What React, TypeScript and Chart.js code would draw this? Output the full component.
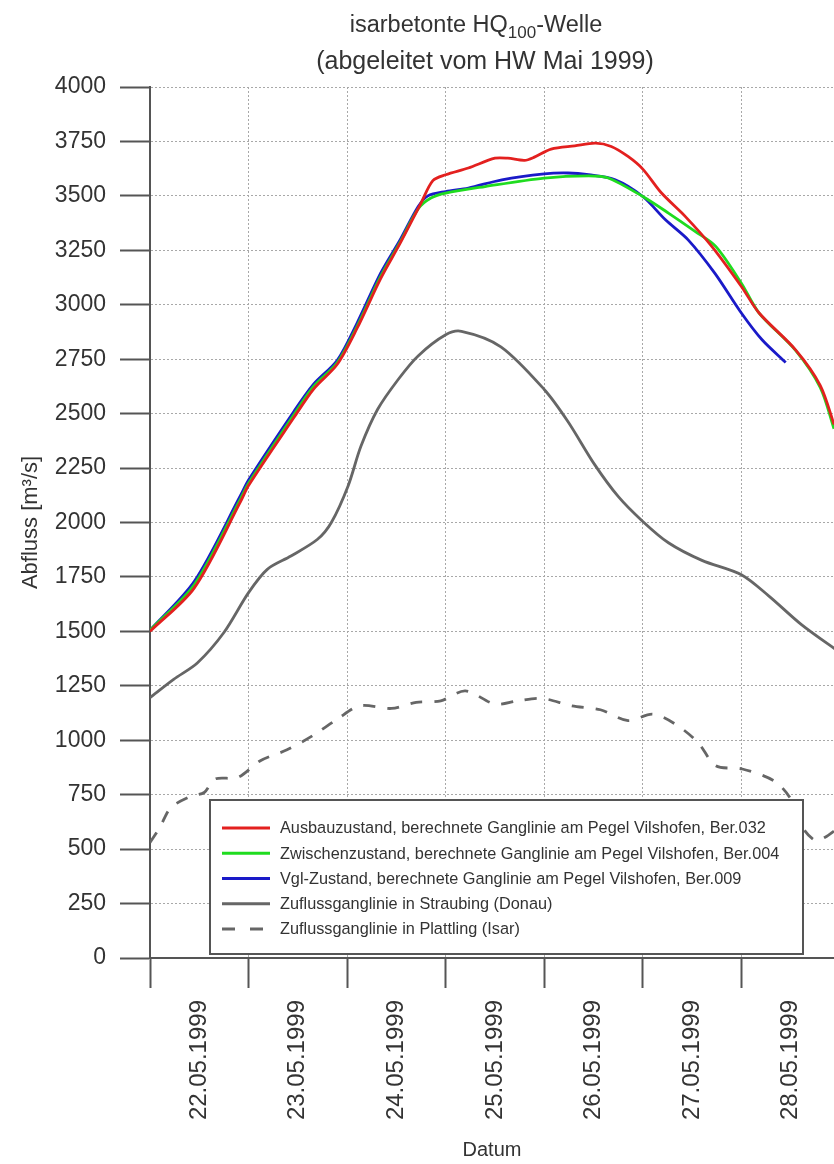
import React, { useEffect, useRef } from 'react';
import { Chart, registerables } from 'chart.js';

Chart.register(...registerables);

const FONT = '"Liberation Sans", Arial, Helvetica, sans-serif';

// x values: days since 22.05.1999 00:00
const dateLabels = ['22.05.1999', '23.05.1999', '24.05.1999', '25.05.1999', '26.05.1999', '27.05.1999', '28.05.1999'];
const dayGridValues = [0, 1, 2, 3, 4, 5, 6];
const yTickValues = [0, 250, 500, 750, 1000, 1250, 1500, 1750, 2000, 2250, 2500, 2750, 3000, 3250, 3500, 3750, 4000];
const xMin = 0;
const xMax = 6.94;

const seriesLabels = [
  'Ausbauzustand, berechnete Ganglinie am Pegel Vilshofen, Ber.032',
  'Zwischenzustand, berechnete Ganglinie am Pegel Vilshofen, Ber.004',
  'Vgl-Zustand, berechnete Ganglinie am Pegel Vilshofen, Ber.009',
  'Zuflussganglinie in Straubing (Donau)',
  'Zuflussganglinie in Plattling (Isar)',
];

const redX = [0, 0.45, 0.92, 1.0, 1.46, 1.66, 1.9, 2.1, 2.34, 2.54, 2.75, 2.87, 3.0, 3.23, 3.5, 3.63, 3.8, 3.9, 4.07, 4.31, 4.52, 4.68, 4.85, 5.0, 5.19, 5.43, 5.7, 6.0, 6.18, 6.55, 6.8, 6.94, 7.0];
const redY = [1500, 1700, 2097, 2170, 2482, 2613, 2727, 2891, 3120, 3284, 3467, 3570, 3597, 3628, 3673, 3673, 3663, 3678, 3715, 3730, 3742, 3727, 3681, 3623, 3513, 3406, 3268, 3084, 2962, 2793, 2630, 2450, 2360];

const greenX = [0, 0.45, 0.92, 1.0, 1.46, 1.66, 1.9, 2.1, 2.34, 2.54, 2.72, 2.85, 3.0, 3.4, 4.0, 4.45, 4.65, 5.0, 5.26, 5.53, 5.74, 6.0, 6.18, 6.55, 6.8, 6.94, 7.0];
const greenY = [1505, 1715, 2110, 2180, 2495, 2625, 2735, 2900, 3130, 3290, 3440, 3490, 3513, 3543, 3582, 3592, 3582, 3497, 3421, 3337, 3268, 3099, 2962, 2790, 2620, 2430, 2340];

const blueX = [0, 0.45, 0.92, 1.0, 1.46, 1.66, 1.9, 2.1, 2.34, 2.54, 2.72, 2.82, 3.0, 3.23, 3.57, 4.0, 4.24, 4.45, 4.72, 5.0, 5.23, 5.46, 5.73, 6.0, 6.21, 6.45];
const blueY = [1505, 1730, 2125, 2195, 2510, 2635, 2745, 2915, 3145, 3300, 3450, 3500, 3520, 3536, 3574, 3601, 3605, 3597, 3574, 3497, 3390, 3298, 3145, 2962, 2839, 2735];

const grayX = [0, 0.24, 0.48, 0.75, 1.0, 1.19, 1.43, 1.7, 1.84, 2.01, 2.14, 2.31, 2.52, 2.72, 3.0, 3.16, 3.56, 4.0, 4.24, 4.51, 4.75, 5.0, 5.26, 5.6, 6.0, 6.28, 6.61, 6.96, 7.0];
const grayY = [1196, 1280, 1355, 1495, 1678, 1785, 1846, 1923, 2000, 2168, 2350, 2520, 2658, 2765, 2862, 2878, 2807, 2611, 2464, 2267, 2120, 2005, 1907, 1826, 1760, 1662, 1531, 1416, 1405];

const dashX = [0, 0.1, 0.21, 0.41, 0.55, 0.66, 0.89, 1.12, 1.39, 1.65, 1.9, 2.13, 2.45, 2.7, 2.95, 3.2, 3.5, 3.73, 3.98, 4.28, 4.57, 4.85, 5.1, 5.33, 5.56, 5.74, 6.01, 6.33, 6.49, 6.62, 6.75, 6.85, 6.96];
const dashY = [530, 600, 690, 742, 760, 822, 829, 906, 956, 1021, 1097, 1158, 1146, 1174, 1181, 1227, 1166, 1181, 1192, 1158, 1140, 1090, 1120, 1074, 990, 883, 868, 814, 738, 600, 540, 555, 590];

const toPoints = (xs: number[], ys: number[]) => xs.map((x, i) => ({ x, y: ys[i] }));

const titlePlugin = {
  id: 'twoLineTitle',
  afterDraw(chart: any) {
    const ctx = chart.ctx;
    ctx.save();
    ctx.fillStyle = '#333';
    ctx.textBaseline = 'alphabetic';
    const big = `23.5px ${FONT}`;
    const small = `17px ${FONT}`;
    const a = 'isarbetonte HQ';
    const s = '100';
    const b = '-Welle';
    ctx.font = big;
    const wa = ctx.measureText(a).width;
    const wb = ctx.measureText(b).width;
    ctx.font = small;
    const ws = ctx.measureText(s).width;
    let x = 476 - (wa + ws + wb) / 2;
    const y1 = 32;
    ctx.font = big;
    ctx.textAlign = 'left';
    ctx.fillText(a, x, y1);
    x += wa;
    ctx.font = small;
    ctx.fillText(s, x, y1 + 6);
    x += ws;
    ctx.font = big;
    ctx.fillText(b, x, y1);
    ctx.textAlign = 'center';
    ctx.font = `25px ${FONT}`;
    ctx.fillText('(abgeleitet vom HW Mai 1999)', 485, 69);
    ctx.restore();
  },
};

const legendPlugin = {
  id: 'boxLegend',
  afterDraw(chart: any) {
    const ctx = chart.ctx;
    const x0 = 210, y0 = 800, w = 593, h = 154;
    ctx.save();
    ctx.fillStyle = '#fff';
    ctx.fillRect(x0, y0, w, h);
    ctx.strokeStyle = '#555';
    ctx.lineWidth = 2;
    ctx.strokeRect(x0, y0, w, h);
    chart.data.datasets.forEach((ds: any, i: number) => {
      const y = 828 + i * 25.25;
      ctx.beginPath();
      ctx.setLineDash(ds.borderDash && ds.borderDash.length ? [13, 15] : []);
      ctx.strokeStyle = ds.borderColor;
      ctx.lineWidth = 3;
      ctx.moveTo(222, y);
      ctx.lineTo(270, y);
      ctx.stroke();
      ctx.setLineDash([]);
      ctx.fillStyle = '#333';
      ctx.font = `16.3px ${FONT}`;
      ctx.textBaseline = 'middle';
      ctx.textAlign = 'left';
      ctx.fillText(ds.label, 280, y + 1);
    });
    ctx.restore();
  },
};

const gridCommon = {
  color: '#a8a8a8',
  lineWidth: 1,
  tickColor: '#555',
  tickLength: 30,
  tickWidth: 2,
  tickBorderDash: [],
};

export default function App() {
  const ref = useRef<HTMLCanvasElement | null>(null);

  useEffect(() => {
    document.body.style.margin = '0';
    document.body.style.overflow = 'hidden';
    const canvas = ref.current;
    if (!canvas) return;
    const lineBase = { pointRadius: 0, borderWidth: 2.8, fill: false, tension: 0.3, xAxisID: 'x', yAxisID: 'y' };
    const chart = new Chart(canvas, {
      type: 'line',
      data: {
        datasets: [
          { ...lineBase, label: seriesLabels[0], data: toPoints(redX, redY), borderColor: '#e3201f' },
          { ...lineBase, label: seriesLabels[1], data: toPoints(greenX, greenY), borderColor: '#1fdc1f' },
          { ...lineBase, label: seriesLabels[2], data: toPoints(blueX, blueY), borderColor: '#1a1ac8' },
          { ...lineBase, label: seriesLabels[3], data: toPoints(grayX, grayY), borderColor: '#666666' },
          { ...lineBase, label: seriesLabels[4], data: toPoints(dashX, dashY), borderColor: '#666666', borderDash: [12, 12] },
        ],
      } as any,
      options: {
        animation: false,
        responsive: false,
        maintainAspectRatio: false,
        layout: { padding: { top: 87, left: 0, right: 0, bottom: 0 } },
        plugins: { legend: { display: false }, title: { display: false }, tooltip: { enabled: false } },
        scales: {
          x: {
            type: 'linear',
            position: 'bottom',
            weight: 0,
            min: xMin,
            max: xMax,
            afterBuildTicks: (scale: any) => {
              scale.ticks = dayGridValues.map((v) => ({ value: v }));
            },
            afterFit: (scale: any) => {
              scale.height = 30;
            },
            ticks: { display: false },
            grid: gridCommon,
            border: { display: true, color: '#555', width: 2, dash: [2, 2] },
          },
          xl: {
            type: 'linear',
            position: 'bottom',
            weight: 1,
            min: xMin,
            max: xMax,
            afterBuildTicks: (scale: any) => {
              scale.ticks = dateLabels.map((_, i) => ({ value: dayGridValues[i] + 0.5 }));
            },
            afterFit: (scale: any) => {
              scale.height = 176;
            },
            ticks: {
              autoSkip: false,
              maxRotation: 90,
              minRotation: 90,
              padding: 12,
              color: '#333',
              font: { family: FONT, size: 24 },
              callback: (_v: any, i: number) => dateLabels[i],
            },
            grid: { display: false, drawTicks: false, tickLength: 0 },
            border: { display: false },
            title: {
              display: true,
              text: 'Datum',
              color: '#333',
              font: { family: FONT, size: 20 },
              padding: { top: 0, bottom: 2 },
            },
          },
          y: {
            type: 'linear',
            position: 'left',
            min: 0,
            max: 4000,
            afterBuildTicks: (scale: any) => {
              scale.ticks = yTickValues.map((v) => ({ value: v }));
            },
            afterFit: (scale: any) => {
              scale.width = 150;
            },
            ticks: {
              padding: 14,
              color: '#333',
              font: { family: FONT, size: 23 },
              callback: (v: any) => String(v),
            },
            grid: gridCommon,
            border: { display: true, color: '#555', width: 2, dash: [2, 2] },
            title: {
              display: true,
              text: 'Abfluss [m³/s]',
              color: '#333',
              font: { family: FONT, size: 22 },
              padding: { top: 18, bottom: 0 },
            },
          },
        },
      } as any,
      plugins: [titlePlugin, legendPlugin],
    });
    return () => chart.destroy();
  }, []);

  return (
    <div style={{ width: 834, height: 1164, overflow: 'hidden', background: '#fff' }}>
      <canvas ref={ref} width={834} height={1164} style={{ display: 'block' }} />
    </div>
  );
}
